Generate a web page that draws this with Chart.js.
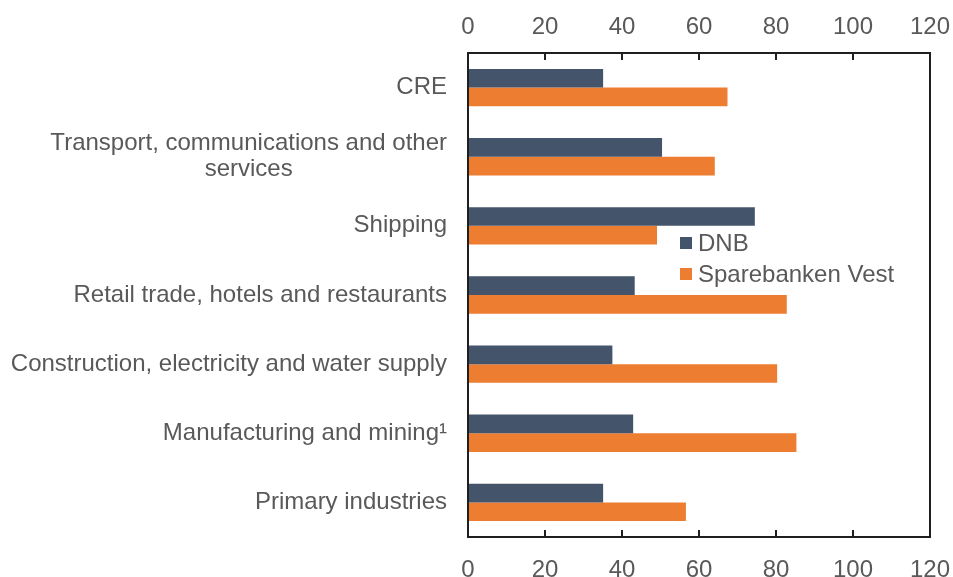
<!DOCTYPE html>
<html>
<head>
<meta charset="utf-8">
<script src="https://cdn.jsdelivr.net/npm/chart.js@4.4.1/dist/chart.umd.min.js"></script>
<style>
  html, body { margin: 0; padding: 0; background: #ffffff; }
  #chart { display: block; }
</style>
</head>
<body>
<canvas id="chart" width="953" height="577"></canvas>
<script>
(function () {
	'use strict';

	// ─── Data ───
	var categories = [
		['CRE'],
		['Transport, communications and other', 'services'],
		['Shipping'],
		['Retail trade, hotels and restaurants'],
		['Construction, electricity and water supply'],
		['Manufacturing and mining\u00b9'],
		['Primary industries']
	];
	var dnbValues = [35.1, 50.4, 74.5, 43.3, 37.5, 42.9, 35.1];
	var sparebankenValues = [67.4, 64.1, 49.1, 82.8, 80.3, 85.3, 56.6];
	var seriesNames = ['DNB', 'Sparebanken Vest'];
	var xTicks = [0, 20, 40, 60, 80, 100, 120];

	// ─── Palette ───
	var colors = {
		dnb: '#44546A',
		vest: '#ED7D31',
		text: '#595959',
		frame: '#1f1f1f'
	};
	var fontFamily = "Arial, 'Liberation Sans', sans-serif";
	var fontSize = 24;

	// frame + inward tick marks
	var framePlugin = {
		id: 'frame',
		afterDatasetsDraw: function (chart) {
			var ctx = chart.ctx;
			var a = chart.chartArea;
			var xs = chart.scales.x;
			ctx.save();
			ctx.strokeStyle = colors.frame;
			ctx.lineWidth = 2;
			ctx.strokeRect(a.left, a.top, a.right - a.left, a.bottom - a.top);
			ctx.beginPath();
			xTicks.forEach(function (v) {
				var px = Math.round(xs.getPixelForValue(v));
				ctx.moveTo(px, a.top);
				ctx.lineTo(px, a.top + 7);
				ctx.moveTo(px, a.bottom);
				ctx.lineTo(px, a.bottom - 7);
			});
			ctx.stroke();
			ctx.restore();
		}
	};

	// category labels, right aligned, wrapped lines centred on each other
	var labelPlugin = {
		id: 'catLabels',
		afterDraw: function (chart) {
			var ctx = chart.ctx;
			var ys = chart.scales.y;
			var right = chart.chartArea.left - 21;
			var lineH = 26;
			ctx.save();
			ctx.font = fontSize + 'px ' + fontFamily;
			ctx.fillStyle = colors.text;
			ctx.textBaseline = 'middle';
			ctx.textAlign = 'center';
			categories.forEach(function (lines, i) {
				var cy = ys.getPixelForValue(i);
				var maxW = 0;
				lines.forEach(function (l) { maxW = Math.max(maxW, ctx.measureText(l).width); });
				var cx = right - maxW / 2;
				var y0 = cy - (lines.length - 1) * lineH / 2;
				lines.forEach(function (l, j) {
					ctx.fillText(l, cx, y0 + j * lineH);
				});
			});
			ctx.restore();
		}
	};

	// legend sitting inside the plot
	var legendPlugin = {
		id: 'innerLegend',
		afterDraw: function (chart) {
			var ctx = chart.ctx;
			var a = chart.chartArea;
			var x = a.left + 212;
			var y = a.top + 190;
			ctx.save();
			ctx.font = fontSize + 'px ' + fontFamily;
			ctx.textBaseline = 'middle';
			ctx.textAlign = 'left';
			chart.data.datasets.forEach(function (ds, i) {
				var cy = y + i * 31;
				ctx.fillStyle = ds.backgroundColor;
				ctx.fillRect(x, cy - 6, 12, 12);
				ctx.fillStyle = colors.text;
				ctx.fillText(ds.label, x + 18, cy + 1);
			});
			ctx.restore();
		}
	};

	var tickFont = { family: fontFamily, size: fontSize };

	function fixedHeight(h) {
		return function (scale) {
			scale.height = h;
			scale.paddingLeft = 0;
			scale.paddingRight = 0;
		};
	}

	new Chart(document.getElementById('chart').getContext('2d'), {
		type: 'bar',
		data: {
			labels: categories.map(function (c) { return c.join(' '); }),
			datasets: [{
				label: seriesNames[0],
				data: dnbValues,
				backgroundColor: colors.dnb,
				xAxisID: 'x'
			}, {
				label: seriesNames[1],
				data: sparebankenValues,
				backgroundColor: colors.vest,
				xAxisID: 'x'
			}]
		},
		options: {
			indexAxis: 'y',
			responsive: false,
			animation: false,
			categoryPercentage: 0.54,
			barPercentage: 1.0,
			layout: { padding: { left: 0, right: 23, top: 0, bottom: 0 } },
			plugins: {
				legend: { display: false },
				tooltip: { enabled: false }
			},
			scales: {
				x: {
					position: 'bottom',
					min: 0,
					max: 120,
					afterBuildTicks: function (scale) {
						scale.ticks = xTicks.map(function (v) { return { value: v }; });
					},
					afterFit: fixedHeight(40),
					grid: { display: false, drawTicks: false },
					border: { display: false },
					ticks: { color: colors.text, font: tickFont, padding: 19, maxRotation: 0 }
				},
				x2: {
					position: 'top',
					min: 0,
					max: 120,
					afterBuildTicks: function (scale) {
						scale.ticks = xTicks.map(function (v) { return { value: v }; });
					},
					afterFit: fixedHeight(53),
					grid: { display: false, drawTicks: false },
					border: { display: false },
					ticks: { color: colors.text, font: tickFont, padding: 11, maxRotation: 0 }
				},
				y: {
					afterFit: function (scale) { scale.width = 468; },
					grid: { display: false, drawTicks: false },
					border: { display: false },
					ticks: { display: false }
				}
			}
		},
		plugins: [framePlugin, labelPlugin, legendPlugin]
	});
})();
</script>
</body>
</html>
